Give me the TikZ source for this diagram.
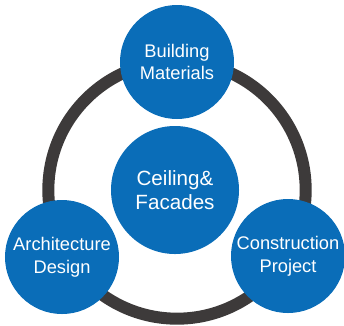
\documentclass[tikz,border=0pt]{standalone}
\usepackage{fontspec}
\setmainfont{Liberation Sans}
\usepackage{xcolor}
\usetikzlibrary{calc}
\definecolor{bubbleblue}{HTML}{0A6DB8}
\definecolor{ringgray}{HTML}{3D3A3A}
\tikzset{
	bubble/.style={circle, fill=bubbleblue, text=white, minimum size=3.42cm, inner sep=0pt, align=center, font=\fontsize{15.6}{19.5}\selectfont},
	hub/.style={bubble, minimum size=3.84cm, font=\fontsize{17.6}{20.5}\selectfont}
}

\begin{document}
\begin{tikzpicture}[x=0.03cm, y=-0.03cm]
	\useasboundingbox (0,0) rectangle (344,325);
	\coordinate (mid) at (177,190);
	\draw[ringgray, line width=0.36cm] (mid) circle (3.86cm);
	\node[hub] (ceiling) at (175,190) {Ceiling\&\\Facades};
	\node[bubble] (materials) at (177,62) {Building\\Materials};
	\node[bubble] (design) at (62,257) {Architecture\\Design};
	\node[bubble] (project) at (288,256) {Construction\\Project};
\end{tikzpicture}
\end{document}
